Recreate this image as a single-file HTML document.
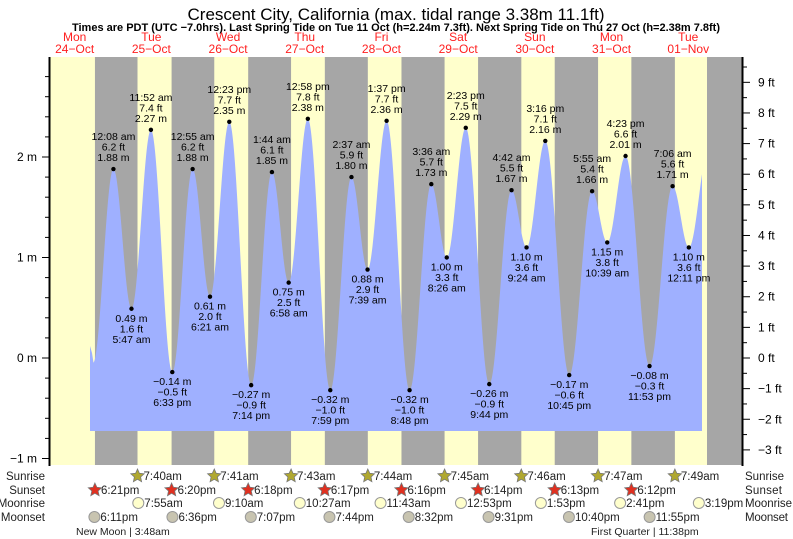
<!DOCTYPE html>
<html><head><meta charset="utf-8"><style>
body{margin:0;background:#fff;}
svg{display:block;font-family:"Liberation Sans",sans-serif;}
</style></head><body>
<svg id="s" width="793" height="539" xmlns="http://www.w3.org/2000/svg"></svg>
<script>
var S=document.getElementById('s'),h='';
function X(d,hh,mm){return 113+76.7*(d-25+(hh+mm/60)/24);}
function Y(m){return 358-100.5*m;}
function T(t){var a=t.split(' '),p=a[0].split(':'),H=+p[0]%12;if(a[1]=='pm')H+=12;return [H,+p[1]];}
h+='<text x="396" y="20" font-size="17" text-anchor="middle" fill="#000">Crescent City, California (max. tidal range 3.38m 11.1ft)</text>';
h+='<text x="396" y="31" font-size="11" font-weight="bold" text-anchor="middle">Times are PDT (UTC &#8722;7.0hrs). Last Spring Tide on Tue 11 Oct (h=2.24m 7.3ft). Next Spring Tide on Thu 27 Oct (h=2.38m 7.8ft)</text>';
h+='<rect x="50" y="57" width="692" height="408" fill="#ffffcc"/>';
var ss=[[24,'6:21 pm'],[25,'6:20 pm'],[26,'6:18 pm'],[27,'6:17 pm'],[28,'6:16 pm'],[29,'6:14 pm'],[30,'6:13 pm'],[31,'6:12 pm']];
var sr=[[25,'7:40 am'],[26,'7:41 am'],[27,'7:43 am'],[28,'7:44 am'],[29,'7:45 am'],[30,'7:46 am'],[31,'7:47 am'],[32,'7:49 am']];
for(var i=0;i<8;i++){var a=T(ss[i][1]),b=T(sr[i][1]);var x1=X(ss[i][0],a[0],a[1]),x2=Math.min(742,X(sr[i][0],b[0],b[1]));h+='<rect x="'+x1+'" y="57" width="'+(x2-x1)+'" height="408" fill="#a6a6a6"/>';}
h+='<rect x="707" y="57" width="35" height="408" fill="#a6a6a6"/>';
var tides=[[25,'12:08 am',1.88,'6.2'],[25,'5:47 am',0.49,'1.6'],[25,'11:52 am',2.27,'7.4'],[25,'6:33 pm',-0.14,'-0.5'],
[26,'12:55 am',1.88,'6.2'],[26,'6:21 am',0.61,'2.0'],[26,'12:23 pm',2.35,'7.7'],[26,'7:14 pm',-0.27,'-0.9'],
[27,'1:44 am',1.85,'6.1'],[27,'6:58 am',0.75,'2.5'],[27,'12:58 pm',2.38,'7.8'],[27,'7:59 pm',-0.32,'-1.0'],
[28,'2:37 am',1.80,'5.9'],[28,'7:39 am',0.88,'2.9'],[28,'1:37 pm',2.36,'7.7'],[28,'8:48 pm',-0.32,'-1.0'],
[29,'3:36 am',1.73,'5.7'],[29,'8:26 am',1.00,'3.3'],[29,'2:23 pm',2.29,'7.5'],[29,'9:44 pm',-0.26,'-0.9'],
[30,'4:42 am',1.67,'5.5'],[30,'9:24 am',1.10,'3.6'],[30,'3:16 pm',2.16,'7.1'],[30,'10:45 pm',-0.17,'-0.6'],
[31,'5:55 am',1.66,'5.4'],[31,'10:39 am',1.15,'3.8'],[31,'4:23 pm',2.01,'6.6'],[31,'11:53 pm',-0.08,'-0.3'],
[32,'7:06 am',1.71,'5.6'],[32,'12:11 pm',1.10,'3.6'],[32,'6:30 pm',2.1,'']];
var pts=[[X(24,17,45),-0.05]];
tides.forEach(function(t){var a=T(t[1]);pts.push([X(t[0],a[0],a[1]),t[2]]);});
var d='M90 '+Y(0.12)+' L92 '+Y(0.05);
for(var x=92;x<=702;x+=0.5){for(var k=0;k<pts.length-1;k++){if(x>=pts[k][0]&&x<=pts[k+1][0]){var f=(x-pts[k][0])/(pts[k+1][0]-pts[k][0]);var v=pts[k][1]+(pts[k+1][1]-pts[k][1])*(1-Math.cos(Math.PI*f))/2;d+=' L'+x+' '+Y(v).toFixed(1);break;}}}
d+=' L702 431 L90 431 Z';
h+='<path d="'+d+'" fill="#9fb0ff"/>';
tides.forEach(function(t,i){if(!t[3])return;var a=T(t[1]);var x=X(t[0],a[0],a[1]),y=Y(t[2]);h+='<circle cx="'+x+'" cy="'+y+'" r="2.2" fill="#000"/>';
var m=t[2].toFixed(2).replace('-','\u2212')+' m',ft=t[3].replace('-','\u2212')+' ft';
var L=(i%2==0)?[t[1],ft,m]:[m,ft,t[1]];var y0=(i%2==0)?y-29:y+13;
for(var j=0;j<3;j++)h+='<text x="'+x+'" y="'+(y0+j*10.5)+'" font-size="10.5" text-anchor="middle">'+L[j]+'</text>';});
h+='<line x1="49.5" y1="57" x2="49.5" y2="466" stroke="#000" stroke-width="2"/><line x1="742.5" y1="57" x2="742.5" y2="466" stroke="#000" stroke-width="2"/>';
for(var v=-1;v<=3;v+=0.2){var y=Y(v);if(y<57)break;var maj=Math.abs(v-Math.round(v))<0.01;h+='<line x1="'+(maj?42:45)+'" y1="'+y+'" x2="49" y2="'+y+'" stroke="#000"/>';if(maj)h+='<text x="37" y="'+(y+4)+'" font-size="12" text-anchor="end">'+(Math.round(v)<0?'\u22121':Math.round(v))+' m</text>';}
for(var f=-3;f<=9.5;f+=0.5){var y=358-30.63*f;var maj=f%1==0;h+='<line x1="743" y1="'+y+'" x2="'+(maj?750:747)+'" y2="'+y+'" stroke="#000"/>';if(maj)h+='<text x="758" y="'+(y+4)+'" font-size="12">'+(f<0?'\u2212'+(-f):f)+' ft</text>';}
var days=[['Mon','24\u2212Oct'],['Tue','25\u2212Oct'],['Wed','26\u2212Oct'],['Thu','27\u2212Oct'],['Fri','28\u2212Oct'],['Sat','29\u2212Oct'],['Sun','30\u2212Oct'],['Mon','31\u2212Oct'],['Tue','01\u2212Nov']];
days.forEach(function(dd,i){var x=X(24+i,12,0);h+='<text x="'+x+'" y="41" font-size="12" fill="#ff2020" text-anchor="middle">'+dd[0]+'</text><text x="'+x+'" y="53" font-size="12" fill="#ff2020" text-anchor="middle">'+dd[1]+'</text>';});
var rows=[['Sunrise',480],['Sunset',494],['Moonrise',507],['Moonset',521]];
rows.forEach(function(r){h+='<text x="45" y="'+r[1]+'" font-size="11.5" text-anchor="end" fill="#222">'+r[0]+'</text><text x="745" y="'+r[1]+'" font-size="11.5" fill="#222" textLength="'+(r[0]=='Moonrise'?47:(r[0]=='Moonset'?43:(r[0]=='Sunrise'?39:37)))+'">'+r[0]+'</text>';});
function star(x,y,c){var p='';for(var k=0;k<10;k++){var r=k%2?3.3:7,a=-Math.PI/2+k*Math.PI/5;p+=(x+r*Math.cos(a)).toFixed(1)+','+(y+r*Math.sin(a)).toFixed(1)+' ';}return '<polygon points="'+p+'" fill="'+c+'" stroke="#777" stroke-width="0.8"/>';}
function ev(list,yy,kind){list.forEach(function(e){var a=T(e[1]);var x=X(e[0],a[0],a[1]);
if(kind==0)h+=star(x,yy-4,'#b0a830');else if(kind==1)h+=star(x,yy-4,'#e03020');else h+='<circle cx="'+x+'" cy="'+(yy-4)+'" r="5.5" fill="'+(kind==2?'#ffffcc':'#c8c4b0')+'" stroke="#999"/>';
h+='<text x="'+(x+6)+'" y="'+yy+'" font-size="11.5" fill="#222">'+e[1].replace(' ','')+'</text>';});}
ev(sr,480,0);ev(ss,494,1);
ev([[25,'7:55 am'],[26,'9:10 am'],[27,'10:27 am'],[28,'11:43 am'],[29,'12:53 pm'],[30,'1:53 pm'],[31,'2:41 pm'],[32,'3:19 pm']],507,2);
ev([[24,'6:11 pm'],[25,'6:36 pm'],[26,'7:07 pm'],[27,'7:44 pm'],[28,'8:32 pm'],[29,'9:31 pm'],[30,'10:40 pm'],[31,'11:55 pm']],521,3);
h+='<text x="76" y="535" font-size="10.5" fill="#222">New Moon | 3:48am</text><text x="591" y="535" font-size="10.5" fill="#222">First Quarter | 11:38pm</text>';
S.innerHTML=h;
</script>
</body></html>
